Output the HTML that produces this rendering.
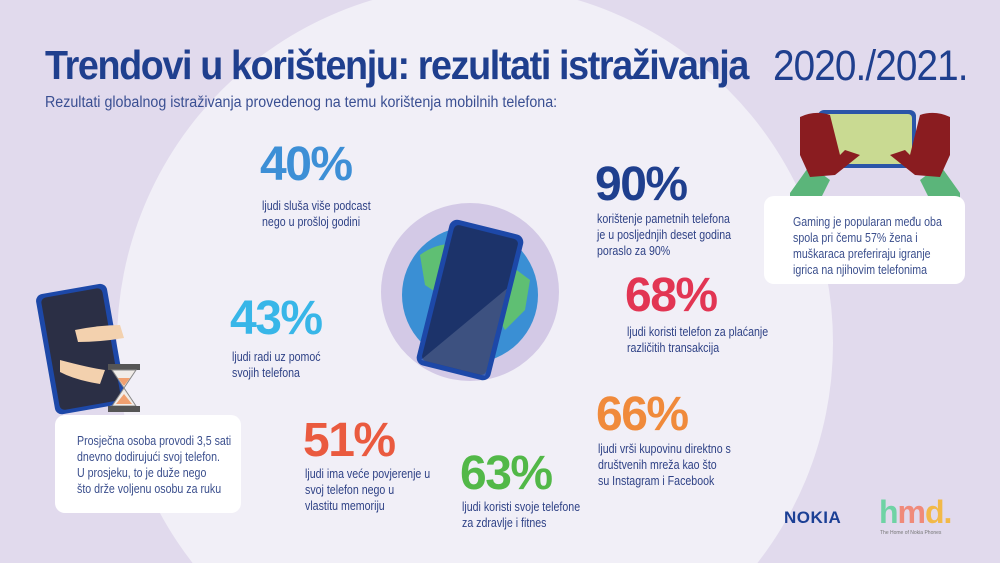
<!DOCTYPE html>
<html style="width:1000px;height:563px;overflow:hidden"><head><meta charset="utf-8"><style>
*{margin:0;padding:0;box-sizing:border-box}
body{width:1000px;height:563px;overflow:hidden;background:#e1daed;font-family:"Liberation Sans",sans-serif;position:relative;color:#2d3f85}
.a{position:absolute;white-space:nowrap}
.big{font-weight:bold;font-size:48px;letter-spacing:-1.5px;line-height:1}
.t{font-size:12.5px;line-height:16px;color:#2f4286;transform:scaleX(0.85);transform-origin:left top}
.box{position:absolute;background:#fff;border-radius:10px}
</style></head><body>
<svg class="a" style="left:0;top:0" width="1000" height="563"><circle cx="475" cy="343" r="358" fill="#f1eff7"/></svg>

<div class="a" style="left:45px;top:42px;font-size:41px;font-weight:bold;color:#1f3f8e;letter-spacing:-1.5px;transform:scaleX(0.92);transform-origin:left">Trendovi u korištenju: rezultati istraživanja</div>
<div class="a" style="left:773px;top:42px;font-size:43px;color:#1f3f8e;letter-spacing:-1px;transform:scaleX(0.9);transform-origin:left">2020./2021.</div>
<div class="a" style="left:45px;top:94px;font-size:15.5px;color:#3a4f92;transform:scaleX(0.92);transform-origin:left">Rezultati globalnog istraživanja provedenog na temu korištenja mobilnih telefona:</div>

<div class="a big" style="left:260px;top:141px;color:#3d8fd6">40%</div>
<div class="a t" style="left:262px;top:198px">ljudi sluša više podcast<br>nego u prošloj godini</div>

<div class="a big" style="left:595px;top:161px;color:#1f3f8e">90%</div>
<div class="a t" style="left:597px;top:211px">korištenje pametnih telefona<br>je u posljednjih deset godina<br>poraslo za 90%</div>

<div class="a big" style="left:230px;top:295px;color:#38b6e8">43%</div>
<div class="a t" style="left:232px;top:349px">ljudi radi uz pomoć<br>svojih telefona</div>

<div class="a big" style="left:625px;top:272px;color:#e23553">68%</div>
<div class="a t" style="left:627px;top:324px">ljudi koristi telefon za plaćanje<br>različitih transakcija</div>

<div class="a big" style="left:596px;top:391px;color:#f08a3b">66%</div>
<div class="a t" style="left:598px;top:441px">ljudi vrši kupovinu direktno s<br>društvenih mreža kao što<br>su Instagram i Facebook</div>

<div class="a big" style="left:303px;top:417px;color:#ea5a3f">51%</div>
<div class="a t" style="left:305px;top:466px">ljudi ima veće povjerenje u<br>svoj telefon nego u<br>vlastitu memoriju</div>

<div class="a big" style="left:460px;top:450px;color:#52b848">63%</div>
<div class="a t" style="left:462px;top:499px">ljudi koristi svoje telefone<br>za zdravlje i fitnes</div>

<!-- globe -->
<svg class="a" style="left:380px;top:200px" width="180" height="185" viewBox="0 0 180 185">
<circle cx="90" cy="92" r="89" fill="#d3c9e6"/>
<circle cx="90" cy="95" r="68" fill="#3a8fd4"/>
<path d="M40 55 Q60 40 85 45 L95 60 L75 75 L60 95 L45 85 Z" fill="#5fbf73"/>
<path d="M70 110 L90 105 L95 130 L80 155 L72 135 Z" fill="#5fbf73"/>
<path d="M105 75 L130 65 L150 80 L145 110 L125 130 L110 105 Z" fill="#5fbf73"/>
<g transform="rotate(14 90 100)">
<rect x="52" y="25" width="76" height="150" rx="8" fill="#1d48a8"/>
<rect x="57" y="30" width="66" height="140" rx="5" fill="#1b2236" opacity="0.55"/>
<path d="M57 170 L123 80 L123 170 Z" fill="#fff" opacity="0.15"/>
</g>
</svg>

<!-- left phone hug -->
<svg class="a" style="left:20px;top:280px" width="130" height="140" viewBox="0 0 130 140">
<g transform="rotate(-10 50 70)">
<rect x="25" y="10" width="72" height="122" rx="7" fill="#1d48a8"/>
<rect x="30" y="14" width="62" height="114" rx="5" fill="#2b2f45"/>
</g>
<path d="M55 50 Q80 45 100 45 L104 58 Q80 62 58 62 Z" fill="#f3d1ae"/>
<path d="M40 80 Q70 88 85 90 L80 104 Q55 100 40 92 Z" fill="#f3d1ae"/>
<rect x="88" y="84" width="32" height="6" fill="#555"/>
<path d="M92 90 L116 90 L104 108 L116 126 L92 126 L104 108 Z" fill="#f1ece8" stroke="#888"/>
<path d="M98 98 L110 98 L104 106Z M96 124 L112 124 L104 114Z" fill="#f0a070"/>
<rect x="88" y="126" width="32" height="6" fill="#555"/>
</svg>

<!-- gaming hands -->
<svg class="a" style="left:790px;top:105px" width="170" height="95" viewBox="0 0 170 95">
<path d="M-5 95 L20 60 L40 75 L30 95Z M175 95 L150 60 L130 75 L140 95Z" fill="#5bb57a"/>
<rect x="28" y="5" width="98" height="58" rx="6" fill="#2a55a8"/>
<rect x="32" y="9" width="90" height="50" rx="4" fill="#c9da92"/>
<path d="M10 12 Q25 5 40 10 L50 50 L55 45 L70 50 L45 70 L20 72 L10 50Z" fill="#8a1c20"/>
<path d="M160 12 Q145 5 130 10 L120 50 L115 45 L100 50 L125 70 L150 72 L160 50Z" fill="#8a1c20"/>
</svg>

<div class="box" style="left:764px;top:196px;width:201px;height:88px"></div>
<div class="a t" style="left:793px;top:214px;color:#3b4f8d">Gaming je popularan među oba<br>spola pri čemu 57% žena i<br>muškaraca preferiraju igranje<br>igrica na njihovim telefonima</div>

<div class="box" style="left:55px;top:415px;width:186px;height:98px"></div>
<div class="a t" style="left:77px;top:433px;color:#3b4f8d">Prosječna osoba provodi 3,5 sati<br>dnevno dodirujući svoj telefon.<br>U prosjeku, to je duže nego<br>što drže voljenu osobu za ruku</div>

<div class="a" style="left:784px;top:508px;font-size:17px;font-weight:900;color:#1b3f95;letter-spacing:0.5px">NOKIA</div>
<div class="a" style="left:879px;top:494px;font-size:32px;font-weight:bold;letter-spacing:-1px"><span style="color:#6fd3a5">h</span><span style="color:#f08a7a">m</span><span style="color:#f2b948">d.</span></div>
<div class="a" style="left:880px;top:530px;font-size:5px;color:#777">The Home of Nokia Phones</div>
</body></html>
